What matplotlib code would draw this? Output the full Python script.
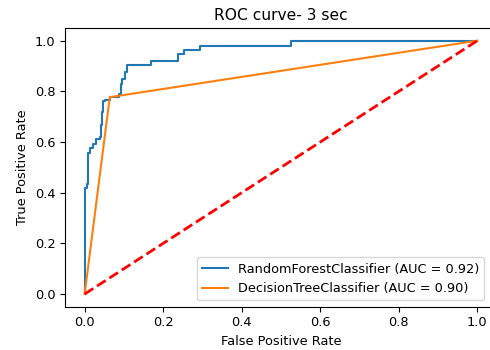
import numpy as np
import matplotlib
matplotlib.use("Agg")
import matplotlib.pyplot as plt

plt.rcParams['font.size'] = 9.3

# ROC points
rf_fpr = [0, 0, 0.005, 0.005, 0.008, 0.008, 0.014, 0.014, 0.021, 0.021, 0.029, 0.029,
          0.038, 0.038, 0.042, 0.042, 0.045, 0.045, 0.048, 0.048, 0.053, 0.053,
          0.064, 0.064, 0.087, 0.087, 0.092, 0.092, 0.096, 0.096, 0.102, 0.102,
          0.107, 0.107, 0.168, 0.168, 0.237, 0.237, 0.253, 0.253, 0.295, 0.295,
          0.526, 0.526, 1.0]
rf_tpr = [0, 0.419, 0.419, 0.435, 0.435, 0.556, 0.556, 0.575, 0.575, 0.592, 0.592, 0.61,
          0.61, 0.62, 0.62, 0.667, 0.667, 0.72, 0.72, 0.76, 0.76, 0.764,
          0.764, 0.777, 0.777, 0.79, 0.79, 0.83, 0.83, 0.849, 0.849, 0.875,
          0.875, 0.904, 0.904, 0.918, 0.918, 0.946, 0.946, 0.962, 0.962, 0.979,
          0.979, 1.0, 1.0]
dt_fpr = [0, 0.064, 1.0]
dt_tpr = [0, 0.777, 1.0]
rf_auc = 0.92
dt_auc = 0.90

fig = plt.figure(figsize=(4.9, 3.5), dpi=100)
ax = fig.add_axes([65 / 490, 43.3 / 350, 432 / 490, 278.7 / 350])

ax.plot(rf_fpr, rf_tpr, label='RandomForestClassifier (AUC = %.2f)' % rf_auc)
ax.plot(dt_fpr, dt_tpr, label='DecisionTreeClassifier (AUC = %.2f)' % dt_auc)
ax.plot([0, 1], [0, 1], 'r--', lw=2)

ax.set_xlim(-0.05, 1.05)
ax.set_ylim(-0.05, 1.05)
ax.set_xticks(np.arange(0, 1.01, 0.2))
ax.set_yticks(np.arange(0, 1.01, 0.2))
ax.set_xlabel('False Positive Rate')
ax.set_ylabel('True Positive Rate')
ax.set_title('ROC curve- 3 sec')
ax.legend(loc='lower right', bbox_to_anchor=(0.986, 0.0))

fig.savefig('out.png', dpi=100)
